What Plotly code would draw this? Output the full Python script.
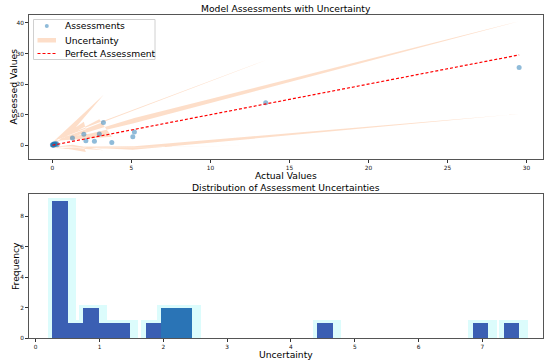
import numpy as np
import plotly.graph_objects as go

# ---- data (in data order) ----
actual = [0.00, 0.08, 1.27, 3.23, 0.10, 2.12, 1.99, 0.15, 5.09, 29.54, 5.19,
          0.20, 2.97, 3.76, 0.06, 13.50, 0.25, 2.66, 0.02, 0.12, 0.05, 0.30]
assessed = [0.2, 0.0, 2.4, 7.4, 0.5, 1.5, 3.6, 0.4, 2.8, 25.4, 4.3,
            0.3, 3.7, 0.9, 0.2, 13.9, 0.6, 1.3, 0.1, 0.3, 0.1, 0.2]
uncertainty = [0.30, 0.28, 1.10, 4.50, 0.45, 1.85, 2.05, 0.33, 2.15, 7.58, 2.30,
               0.38, 2.40, 0.93, 0.60, 6.95, 0.82, 1.35, 0.41, 0.48, 0.26, 0.35]
n_bins = 30
band_k = 2  # band = assessed +/- 2 * uncertainty

a = np.array(actual)
p = np.array(assessed)
u = np.array(uncertainty)
upper = p + band_k * u
lower = p - band_k * u

W, H = 550, 361
def px(x):
    return x / W
def py(y):
    return 1 - y / H

fig = go.Figure()

# uncertainty band (fill_between in data order)
fig.add_trace(go.Scatter(
    x=list(a) + list(a[::-1]), y=list(upper) + list(lower[::-1]),
    fill="toself", fillcolor="rgba(250,160,100,0.35)", line=dict(width=0),
    mode="lines", name="Uncertainty", xaxis="x", yaxis="y", hoverinfo="skip",
    showlegend=False))

fig.add_trace(go.Scatter(
    x=actual, y=assessed, mode="markers", name="Assessments",
    marker=dict(color="rgba(31,119,180,0.5)", size=5), xaxis="x", yaxis="y",
    showlegend=False))

lo, hi = min(actual), max(actual)
fig.add_trace(go.Scatter(
    x=[lo, hi], y=[lo, hi], mode="lines", name="Perfect Assessment",
    line=dict(color="red", width=1.2, dash="3px,2px"), xaxis="x", yaxis="y",
    showlegend=False))

# histogram
counts, edges = np.histogram(u, bins=n_bins)
centers = (edges[:-1] + edges[1:]) / 2
bw = edges[1] - edges[0]
nz = counts > 0
fig.add_trace(go.Bar(
    x=centers[nz] + 0.03, y=counts[nz] + 0.18, width=bw + 0.2,
    marker=dict(color="#dcfcfc", line=dict(width=0)), showlegend=False,
    xaxis="x2", yaxis="y2", hoverinfo="skip"))
bar_colors = ["#2a74b6" if (c == 2 and i >= 5) else "#3b5fb3" for i, c in enumerate(counts)]
fig.add_trace(go.Bar(
    x=centers, y=counts, width=bw, marker=dict(color=bar_colors, line=dict(width=0)),
    showlegend=False, xaxis="x2", yaxis="y2"))

axis_common = dict(showline=True, linecolor="#555", linewidth=1, mirror=True,
                   ticks="outside", ticklen=3, tickcolor="#333", automargin=False,
                   tickfont=dict(size=5.8, color="#111"), showgrid=False, zeroline=False)

FS = 9.2
ann = [
    dict(text="Model Assessments with Uncertainty", x=px(286), y=py(8)),
    dict(text="Actual Values", x=px(286), y=py(175.5)),
    dict(text="Assessed Values", x=px(12.5), y=py(87), textangle=-90),
    dict(text="Distribution of Assessment Uncertainties", x=px(286), y=py(187.5)),
    dict(text="Uncertainty", x=px(286), y=py(354)),
    dict(text="Frequency", x=px(15.5), y=py(266.5), textangle=-90),
    # legend texts
    dict(text="Assessments", x=px(62.5), y=py(26), xanchor="left"),
    dict(text="Uncertainty", x=px(62.5), y=py(40), xanchor="left"),
    dict(text="Perfect Assessment", x=px(62.5), y=py(53.5), xanchor="left"),
]
for d in ann:
    d.update(xref="paper", yref="paper", showarrow=False, font=dict(size=FS, color="black"))
    d.setdefault("xanchor", "center")
    d["yanchor"] = "middle"

shapes = [
    # legend frame and keys
    dict(type="rect", xref="paper", yref="paper", x0=px(33.5), x1=px(155), y0=py(19.5), y1=py(59.5),
         line=dict(color="#d0d0d0", width=1), fillcolor="rgba(255,255,255,0.8)", layer="above"),
    dict(type="circle", xref="paper", yref="paper", x0=px(44.8), x1=px(48.8), y0=py(24), y1=py(28),
         line=dict(width=0), fillcolor="rgba(31,119,180,0.5)", layer="above"),
    dict(type="rect", xref="paper", yref="paper", x0=px(37.5), x1=px(56), y0=py(38), y1=py(42.5),
         line=dict(width=0), fillcolor="rgba(250,160,100,0.35)", layer="above"),
    dict(type="line", xref="paper", yref="paper", x0=px(37.5), x1=px(56), y0=py(53.5), y1=py(53.5),
         line=dict(color="red", width=1.2, dash="3px,2px"), layer="above"),
]

fig.update_layout(
    width=W, height=H, margin=dict(l=0, r=0, t=0, b=0, autoexpand=False),
    paper_bgcolor="white", plot_bgcolor="white",
    font=dict(family="DejaVu Sans", color="black"),
    barmode="overlay", bargap=0, showlegend=False,
    xaxis=dict(domain=[px(29), px(543)], range=[-1.48, 31.05], anchor="y",
               tickvals=[0, 5, 10, 15, 20, 25, 30], **axis_common),
    yaxis=dict(domain=[py(159), py(15)], range=[-4.5, 42.6], anchor="x",
               tickvals=[0, 10, 20, 30, 40], **axis_common),
    xaxis2=dict(domain=[px(29), px(543)], range=[-0.105, 7.95], anchor="y2",
                tickvals=[0, 1, 2, 3, 4, 5, 6, 7], **axis_common),
    yaxis2=dict(domain=[py(338), py(194)], range=[0, 9.45], anchor="x2",
                tickvals=[0, 2, 4, 6, 8], **axis_common),
    annotations=ann, shapes=shapes,
)

fig.write_html("out.html", config={"displayModeBar": False},
               post_script="document.body.style.margin='0';document.body.style.padding='0';")
